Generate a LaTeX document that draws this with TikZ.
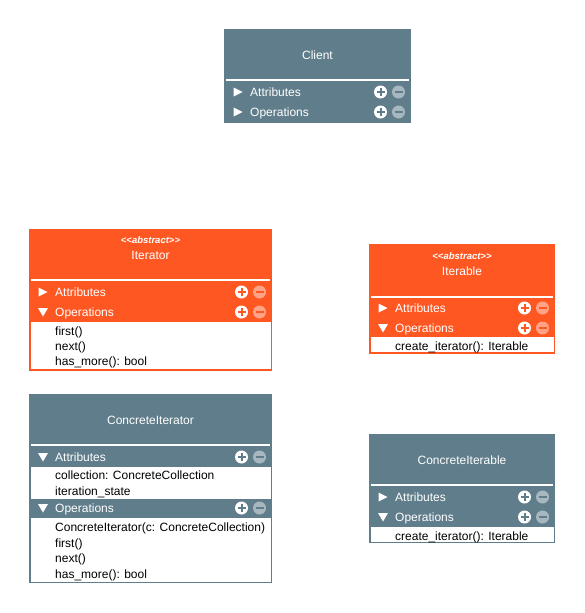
\documentclass[tikz,border=0pt]{standalone}
\usepackage{fontspec}
\setmainfont{Liberation Sans}[Ligatures=TeXOff]
\definecolor{slate}{HTML}{607D8B}
\definecolor{deeporange}{HTML}{FF5722}
\tikzset{
  classbox/.style={draw=none, inner sep=0, outer sep=0, anchor=north west},
  listbox/.style={fill=white, draw=none, inner sep=0, outer sep=0, anchor=north west},
  titletxt/.style={text=white, inner sep=0, anchor=base, font=\fontsize{12}{14}\selectfont},
  stereotxt/.style={text=white, inner sep=0, anchor=base, font=\fontsize{9.5}{11}\selectfont\itshape\bfseries},
  rowtxt/.style={text=white, inner sep=0, anchor=base west, font=\fontsize{12}{14}\selectfont},
  itemtxt/.style={text=black, inner sep=0, anchor=base west, font=\fontsize{12}{14}\selectfont},
  divider/.style={white, line width=2pt},
}
% compartment header row: #1 name, #2 left, #3 right, #4 centre y, #5 label, #6 r/d (closed/open), #7 colour
\newcommand{\umlrow}[7]{%
  \if#6d
    \fill[white] (#2+9,#4-4) -- (#2+19,#4-4) -- (#2+14,#4+4.5) -- cycle;
  \else
    \fill[white] (#2+9.5,#4-4.5) -- (#2+18.5,#4) -- (#2+9.5,#4+4.5) -- cycle;
  \fi
  \node[rowtxt] (#1) at (#2+26,#4+4.3) {#5};
  \fill[white] (#3-30.5,#4) circle (6.5pt);
  \draw[#7, line width=2pt] (#3-34.5,#4) -- (#3-26.5,#4) (#3-30.5,#4-4) -- (#3-30.5,#4+4);
  \fill[white, fill opacity=0.45] (#3-12.5,#4) circle (6.5pt);
  \draw[#7, line width=2pt] (#3-16.5,#4) -- (#3-8.5,#4);
}
\begin{document}
\begin{tikzpicture}[x=1pt, y=-1pt]
\useasboundingbox (0,0) rectangle (585,613);

% Client
\node[classbox, fill=slate, minimum width=187pt, minimum height=94pt] (client) at (224,29) {};
\node[titletxt] (client-title) at (317.5,59.3) {Client};
\draw[divider] (226,80) -- (409,80);
\umlrow{client-attr}{224}{411}{92}{Attributes}{r}{slate}
\umlrow{client-ops}{224}{411}{112}{Operations}{r}{slate}

% Iterator
\node[classbox, fill=deeporange, minimum width=243pt, minimum height=141.5pt] (iterator) at (29,229) {};
\node[stereotxt] (iterator-stereo) at (150.5,243.5) {<<abstract>>};
\node[titletxt] (iterator-title) at (150.5,259.3) {Iterator};
\draw[divider] (31,280) -- (270,280);
\umlrow{iterator-attr}{29}{272}{292}{Attributes}{r}{deeporange}
\umlrow{iterator-ops}{29}{272}{312}{Operations}{d}{deeporange}
\node[listbox, minimum width=240pt, minimum height=47.5pt] (iterator-list) at (30.5,321.5) {};
\node[itemtxt] (iterator-first) at (55,335.3) {first()};
\node[itemtxt] (iterator-next) at (55,350.3) {next()};
\node[itemtxt] (iterator-hasmore) at (55,365.3) {has\_more(): bool};

% Iterable
\node[classbox, fill=deeporange, minimum width=186pt, minimum height=109.5pt] (iterable) at (369,244) {};
\node[stereotxt] (iterable-stereo) at (462,259.5) {<<abstract>>};
\node[titletxt] (iterable-title) at (462,275.3) {Iterable};
\draw[divider] (371,297) -- (553,297);
\umlrow{iterable-attr}{369}{555}{308}{Attributes}{r}{deeporange}
\umlrow{iterable-ops}{369}{555}{328}{Operations}{d}{deeporange}
\node[listbox, minimum width=183pt, minimum height=15pt] (iterable-list) at (370.5,337) {};
\node[itemtxt] (iterable-create) at (395,350.3) {create\_iterator(): Iterable};

% ConcreteIterator
\node[classbox, fill=slate, minimum width=243pt, minimum height=189pt] (citerator) at (29,394) {};
\node[titletxt] (citerator-title) at (150.5,424.3) {ConcreteIterator};
\draw[divider] (31,445) -- (270,445);
\umlrow{citerator-attr}{29}{272}{457}{Attributes}{d}{slate}
\node[listbox, minimum width=240pt, minimum height=32pt] (citerator-attrlist) at (30.5,467) {};
\node[itemtxt] (citerator-collection) at (55,479.3) {collection: ConcreteCollection};
\node[itemtxt] (citerator-state) at (55,495.3) {iteration\_state};
\umlrow{citerator-ops}{29}{272}{508}{Operations}{d}{slate}
\node[listbox, minimum width=240pt, minimum height=63.5pt] (citerator-opslist) at (30.5,518) {};
\node[itemtxt] (citerator-ctor) at (55,531.3) {ConcreteIterator(c: ConcreteCollection)};
\node[itemtxt] (citerator-first) at (55,547.3) {first()};
\node[itemtxt] (citerator-next) at (55,562.3) {next()};
\node[itemtxt] (citerator-hasmore) at (55,578.3) {has\_more(): bool};

% ConcreteIterable
\node[classbox, fill=slate, minimum width=186pt, minimum height=109pt] (citerable) at (369,434) {};
\node[titletxt] (citerable-title) at (462,464.3) {ConcreteIterable};
\draw[divider] (371,485) -- (553,485);
\umlrow{citerable-attr}{369}{555}{497}{Attributes}{r}{slate}
\umlrow{citerable-ops}{369}{555}{517}{Operations}{d}{slate}
\node[listbox, minimum width=183pt, minimum height=14.5pt] (citerable-list) at (370.5,527) {};
\node[itemtxt] (citerable-create) at (395,540.3) {create\_iterator(): Iterable};
\end{tikzpicture}
\end{document}
